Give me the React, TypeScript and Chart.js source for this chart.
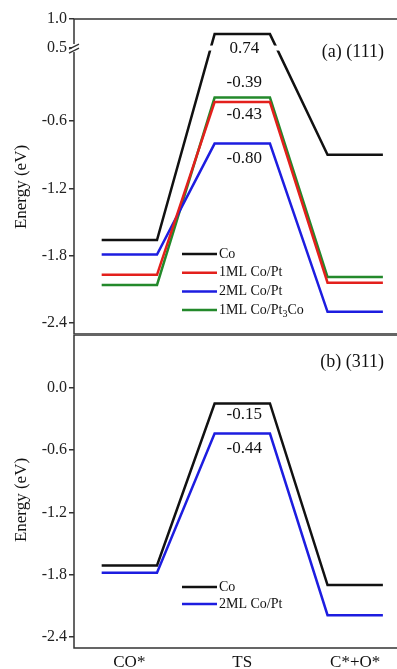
import React, { useEffect, useRef } from 'react';
import { Chart, registerables } from 'chart.js';

Chart.register(...registerables);

// ---------- data ----------
const categories = ['CO*', 'TS', 'C*+O*'];

// panel (a) (111)
const co111 = [-1.66, 0.74, -0.9];
const ml1CoPt111 = [-1.97, -0.43, -2.04];
const ml2CoPt111 = [-1.79, -0.8, -2.3];
const ml1CoPt3Co111 = [-2.06, -0.39, -1.99];

// panel (b) (311)
const co311 = [-1.71, -0.15, -1.9];
const ml2CoPt311 = [-1.78, -0.44, -2.19];

const names111 = ['Co', '1ML Co/Pt', '2ML Co/Pt', '1ML Co/Pt₃Co'];
const names311 = ['Co', '2ML Co/Pt'];

const yTicks111 = [-2.4, -1.8, -1.2, -0.6, 0.5, 1.0];
const yTicks311 = [0.0, -0.6, -1.2, -1.8, -2.4];

// ---------- style ----------
const BLACK = '#111111';
const RED = '#e3201c';
const BLUE = '#1d1de0';
const GREEN = '#23892b';
const FONT = "'Liberation Serif', 'Times New Roman', serif";
const HALF = 0.245; // half width of an energy level (in category units)

// broken axis for panel (a): values >= 0.5 are compressed above the break
const BREAK_LOW = 0.052;
const BREAK_HIGH = 0.5;
const UPPER_SCALE = 0.518;
const brk = (v: number) => (v >= BREAK_HIGH ? BREAK_LOW + (v - BREAK_HIGH) * UPPER_SCALE : v);
const ident = (v: number) => v;

const toSegments = (vals: number[], map: (v: number) => number) =>
  vals.flatMap((v, i) => [
    { x: i - HALF, y: map(v) },
    { x: i + HALF, y: map(v) },
  ]);

interface PanelSpec {
  series: number[][];
  names: string[];
  colors: string[];
  map: (v: number) => number;
  yTicks: number[];
  yMin: number;
  yMax: number;
  tsOffsets: number[];
  title: string;
  titleY: number;
  axisTitleY: number;
  legendTop: number;
  legendStep: number;
  showX: boolean;
  hasBreak: boolean;
  padTop: number;
  height: number;
}

const panelA: PanelSpec = {
  series: [co111, ml1CoPt111, ml2CoPt111, ml1CoPt3Co111],
  names: names111,
  colors: [BLACK, RED, BLUE, GREEN],
  map: brk,
  yTicks: yTicks111,
  yMin: -2.498,
  yMax: brk(1.0),
  tsOffsets: [14, 12, 15, -15],
  title: '(a) (111)',
  titleY: 52,
  axisTitleY: 187,
  legendTop: 254,
  legendStep: 18.7,
  showX: false,
  hasBreak: true,
  padTop: 19,
  height: 334,
};

const panelB: PanelSpec = {
  series: [co311, ml2CoPt311],
  names: names311,
  colors: [BLACK, BLUE],
  map: ident,
  yTicks: yTicks311,
  yMin: -2.506,
  yMax: 0.51,
  tsOffsets: [11, 15],
  title: '(b) (311)',
  titleY: 28,
  axisTitleY: 166,
  legendTop: 253,
  legendStep: 17,
  showX: true,
  hasBreak: false,
  padTop: 1,
  height: 335,
};

function drawLegendText(ctx: CanvasRenderingContext2D, text: string, x: number, y: number) {
  let cx = x;
  for (const part of text.split(/(₃)/)) {
    if (!part) continue;
    if (part === '₃') {
      ctx.font = `10px ${FONT}`;
      ctx.fillText('3', cx, y + 4);
      cx += ctx.measureText('3').width;
      ctx.font = `14px ${FONT}`;
    } else {
      ctx.fillText(part, cx, y);
      cx += ctx.measureText(part).width;
    }
  }
}

function makePlugin(p: PanelSpec) {
  return {
    id: 'panelDecor',
    afterDatasetsDraw(chart: any) {
      const { ctx, chartArea: a, scales } = chart;
      const xs = scales.x;
      const ys = scales.y;
      ctx.save();
      let yb = 0;
      if (p.hasBreak) {
        yb = ys.getPixelForValue(BREAK_LOW);
        ctx.fillStyle = '#ffffff';
        ctx.fillRect(a.left + 2, yb - 2.5, a.right - a.left, 5);
      }
      // frame (top, left, bottom)
      ctx.strokeStyle = '#333333';
      ctx.lineWidth = 1.5;
      ctx.beginPath();
      ctx.moveTo(a.right, a.top);
      ctx.lineTo(a.left, a.top);
      ctx.lineTo(a.left, a.bottom);
      ctx.lineTo(a.right, a.bottom);
      ctx.stroke();
      if (p.hasBreak) {
        ctx.fillStyle = '#ffffff';
        ctx.fillRect(a.left - 2, yb - 4, 4, 8);
        ctx.strokeStyle = '#333333';
        ctx.lineWidth = 1.3;
        ctx.beginPath();
        ctx.moveTo(a.left - 5, yb + 1);
        ctx.lineTo(a.left + 5, yb - 4);
        ctx.moveTo(a.left - 5, yb + 5);
        ctx.lineTo(a.left + 5, yb);
        ctx.stroke();
      }
      // TS value labels
      ctx.fillStyle = '#111111';
      ctx.font = `17px ${FONT}`;
      ctx.textAlign = 'center';
      ctx.textBaseline = 'middle';
      const xTs = xs.getPixelForValue(1) + 2;
      p.series.forEach((s, i) => {
        const y = ys.getPixelForValue(p.map(s[1])) + p.tsOffsets[i];
        ctx.fillText(s[1].toFixed(2), xTs, y);
      });
      // panel title
      ctx.textAlign = 'right';
      ctx.font = `18px ${FONT}`;
      ctx.fillText(p.title, a.right - 13, p.titleY);
      // legend
      ctx.textAlign = 'left';
      ctx.font = `14px ${FONT}`;
      p.names.forEach((n, i) => {
        const y = p.legendTop + i * p.legendStep;
        ctx.strokeStyle = p.colors[i];
        ctx.lineWidth = 2.5;
        ctx.beginPath();
        ctx.moveTo(182, y);
        ctx.lineTo(217, y);
        ctx.stroke();
        ctx.fillStyle = '#111111';
        drawLegendText(ctx, n, 219, y);
      });
      // y axis title
      ctx.save();
      ctx.translate(22, p.axisTitleY);
      ctx.rotate(-Math.PI / 2);
      ctx.textAlign = 'center';
      ctx.font = `17px ${FONT}`;
      ctx.fillText('Energy (eV)', 0, 0);
      ctx.restore();
      ctx.restore();
    },
  };
}

function buildChart(canvas: HTMLCanvasElement, p: PanelSpec) {
  return new Chart(canvas, {
    type: 'line',
    data: {
      datasets: p.series.map((s, i) => ({
        label: p.names[i],
        data: toSegments(s, p.map),
        borderColor: p.colors[i],
        backgroundColor: p.colors[i],
        borderWidth: 2.5,
        pointRadius: 0,
        tension: 0,
        fill: false,
      })),
    },
    options: {
      animation: false,
      responsive: false,
      devicePixelRatio: 1,
      layout: { autoPadding: false, padding: { top: p.padTop, bottom: 0, left: 0, right: 0 } },
      plugins: { legend: { display: false }, tooltip: { enabled: false } },
      scales: {
        x: {
          type: 'linear',
          min: -0.49,
          max: 2.37,
          display: p.showX,
          grid: { display: false, drawTicks: false },
          border: { display: false },
          afterBuildTicks: (s: any) => {
            s.ticks = categories.map((_, i) => ({ value: i }));
          },
          afterFit: (s: any) => {
            s.height = p.showX ? 21 : 0;
            s.paddingLeft = 0;
            s.paddingRight = 0;
          },
          ticks: {
            color: '#111111',
            padding: 4,
            maxRotation: 0,
            font: { family: FONT, size: 17 },
            callback: (_v: any, i: number) => categories[i],
          },
        },
        y: {
          type: 'linear',
          min: p.yMin,
          max: p.yMax,
          grid: {
            display: true,
            drawOnChartArea: false,
            drawTicks: true,
            tickLength: 5,
            color: '#333333',
            lineWidth: 1.5,
          },
          border: { display: false },
          afterBuildTicks: (s: any) => {
            s.ticks = p.yTicks.map((v) => ({ value: p.map(v) }));
          },
          afterFit: (s: any) => {
            s.width = 74;
            s.paddingTop = 0;
            s.paddingBottom = 0;
          },
          ticks: {
            color: '#222222',
            padding: 2,
            font: { family: FONT, size: 16 },
            callback: (_v: any, i: number) => p.yTicks[i].toFixed(1),
          },
        },
      },
    },
    plugins: [makePlugin(p)],
  } as any);
}

export default function App() {
  const topRef = useRef<HTMLCanvasElement>(null);
  const botRef = useRef<HTMLCanvasElement>(null);
  useEffect(() => {
    const c1 = buildChart(topRef.current!, panelA);
    const c2 = buildChart(botRef.current!, panelB);
    return () => {
      c1.destroy();
      c2.destroy();
    };
  }, []);
  return (
    <div style={{ position: 'absolute', left: 0, top: 0, width: 397, height: 669, background: '#fff' }}>
      <canvas ref={topRef} width={397} height={panelA.height} style={{ display: 'block' }} />
      <canvas ref={botRef} width={397} height={panelB.height} style={{ display: 'block' }} />
    </div>
  );
}
